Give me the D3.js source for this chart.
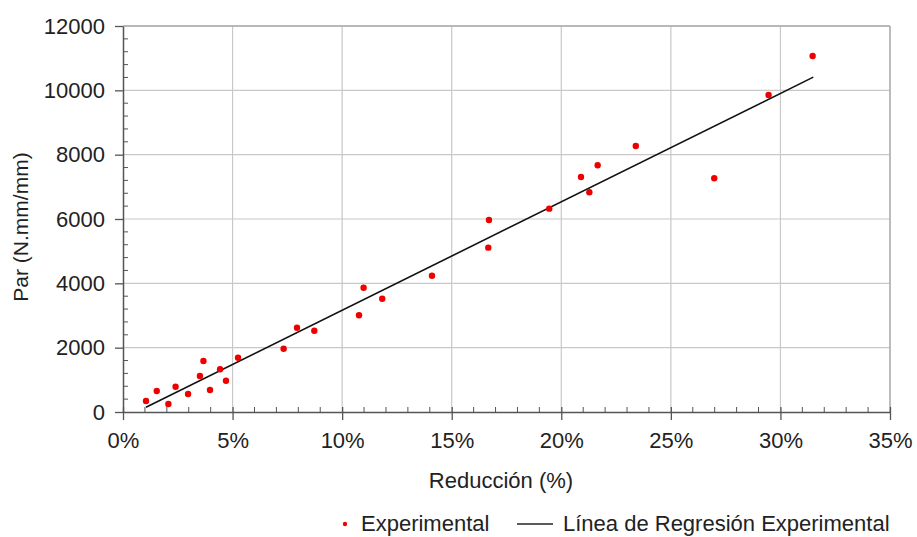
<!DOCTYPE html>
<html><head><meta charset="utf-8">
<script src="https://cdn.jsdelivr.net/npm/d3@7"></script>
<style>body{margin:0;background:#fff}svg{display:block}text{font-family:"Liberation Sans",Arial,sans-serif;fill:#222}</style>
</head><body><svg id="c" width="917" height="537"></svg>
<script>
const reduccion = [1.05,1.54,2.07,2.40,2.97,3.51,3.67,3.97,4.43,4.70,5.25,7.33,7.94,8.73,10.77,10.98,11.83,14.10,16.70,16.67,19.45,20.90,21.28,21.66,23.40,26.98,29.46,31.47];
const par = [342,653,249,787,560,1119,1586,684,1327,973,1688,1968,2621,2528,3006,3865,3523,4238,5969,5109,6322,7306,6830,7670,8270,7265,9855,11068];
const regX = [1.05,31.5];
const regY = [146,10410];
const xTicks = [0,5,10,15,20,25,30,35];
const yTicks = [0,2000,4000,6000,8000,10000,12000];
const xTitle = "Reducción (%)";
const yTitle = "Par (N.mm/mm)";
const legendLabels = ["Experimental","Línea de Regresión Experimental"];

const svg = d3.select("#c");
const L=123,R=890,T=26,B=412;
const x = d3.scaleLinear().domain([0,35]).range([L,R]);
const y = d3.scaleLinear().domain([0,12000]).range([B,T]);

// grid
const g = svg.append("g");
g.selectAll(".gx").data(xTicks.slice(1)).enter().append("line")
 .attr("x1",d=>x(d)).attr("x2",d=>x(d)).attr("y1",T).attr("y2",B)
 .attr("stroke","#c8c8c8").attr("stroke-width",1.2);
g.selectAll(".gy").data(yTicks.slice(1)).enter().append("line")
 .attr("x1",L).attr("x2",R).attr("y1",d=>y(d)).attr("y2",d=>y(d))
 .attr("stroke","#c8c8c8").attr("stroke-width",1.2);
g.append("line").attr("x1",L).attr("x2",R).attr("y1",T).attr("y2",T).attr("stroke","#aaa").attr("stroke-width",1.3);
g.append("line").attr("x1",R).attr("x2",R).attr("y1",T).attr("y2",B).attr("stroke","#aaa").attr("stroke-width",1.3);

// minor ticks
const xMinor = d3.range(0,36,1).filter(d=>d%5!==0);
svg.append("g").selectAll("line").data(xMinor).enter().append("line")
 .attr("x1",d=>x(d)).attr("x2",d=>x(d)).attr("y1",B-5).attr("y2",B)
 .attr("stroke","#555").attr("stroke-width",1);
const yMinor = d3.range(0,12001,400).filter(d=>d%2000!==0);
svg.append("g").selectAll("line").data(yMinor).enter().append("line")
 .attr("x1",L).attr("x2",L+5).attr("y1",d=>y(d)).attr("y2",d=>y(d))
 .attr("stroke","#555").attr("stroke-width",1);

// axes
const xAxis = d3.axisBottom(x).tickValues(xTicks).tickFormat(d=>d+"%").tickSizeInner(8).tickSizeOuter(0).tickPadding(12);
const xa = svg.append("g").attr("transform",`translate(0,${B})`).call(xAxis);
xa.select(".domain").attr("stroke","#555").attr("stroke-width",1.5);
xa.selectAll(".tick line").attr("stroke","#555").attr("stroke-width",1.3).attr("y1",-5);
xa.selectAll(".tick text").attr("font-size",22).attr("fill","#222").attr("font-family","'Liberation Sans',Arial,sans-serif");

const yAxis = d3.axisLeft(y).tickValues(yTicks).tickFormat(d3.format("d")).tickSizeInner(8).tickSizeOuter(0).tickPadding(10);
const ya = svg.append("g").attr("transform",`translate(${L},0)`).call(yAxis);
ya.select(".domain").attr("stroke","#555").attr("stroke-width",1.5);
ya.selectAll(".tick line").attr("stroke","#555").attr("stroke-width",1.3);
ya.selectAll(".tick text").attr("font-size",22).attr("fill","#222").attr("font-family","'Liberation Sans',Arial,sans-serif");

// regression line
const line = d3.line().x(d=>x(d[0])).y(d=>y(d[1]));
svg.append("path").datum(regX.map((v,i)=>[v,regY[i]])).attr("d",line)
 .attr("fill","none").attr("stroke","#111").attr("stroke-width",1.6);

// points
svg.append("g").selectAll("circle").data(reduccion.map((v,i)=>[v,par[i]])).enter().append("circle")
 .attr("cx",d=>x(d[0])).attr("cy",d=>y(d[1])).attr("r",3.2).attr("fill","#ee0000");

// titles
svg.append("text").attr("x",501).attr("y",488).attr("text-anchor","middle").attr("font-size",22).text(xTitle);
svg.append("text").attr("transform","translate(28,227) rotate(-90)").attr("text-anchor","middle").attr("font-size",21).text(yTitle);

// legend
svg.append("circle").attr("cx",345).attr("cy",524).attr("r",2.2).attr("fill","#ee0000");
svg.append("text").attr("x",361).attr("y",531).attr("font-size",22).text(legendLabels[0]);
svg.append("line").attr("x1",517).attr("x2",553).attr("y1",524).attr("y2",524).attr("stroke","#222").attr("stroke-width",1.3);
svg.append("text").attr("x",563).attr("y",531).attr("font-size",22).text(legendLabels[1]);
</script></body></html>
